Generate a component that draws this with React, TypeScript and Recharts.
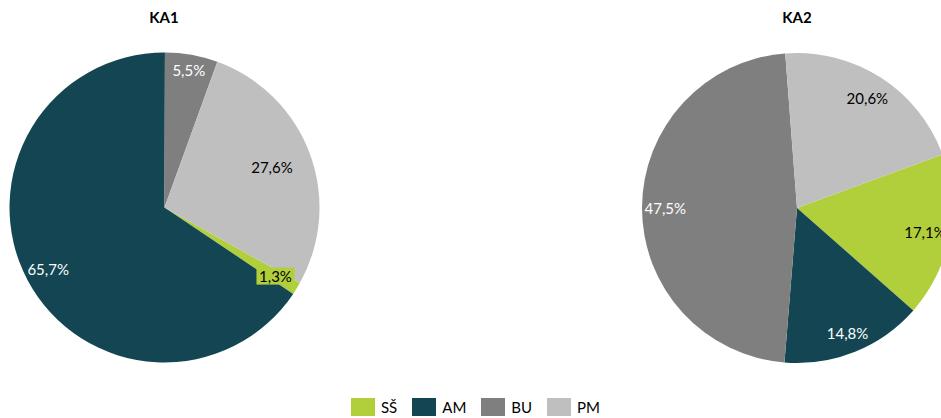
import React from "react";
import { PieChart, Pie, Cell, Legend } from "recharts";

const categories = ["SŠ", "AM", "BU", "PM"];
const ka1Values = [1.3, 65.7, 5.5, 27.6];
const ka2Values = [17.1, 14.8, 47.5, 20.6];

const COLORS = ["#b0cf3b", "#134652", "#7f7f7f", "#bfbfbf"];
const TEXT_COLORS = ["#000000", "#ffffff", "#ffffff", "#000000"];
const FONT = "Lato, 'Open Sans', sans-serif";
const RADIAN = Math.PI / 180;

const ka1 = categories.map((name, i) => ({ name, value: ka1Values[i] }));
const ka2 = categories.map((name, i) => ({ name, value: ka2Values[i] }));

const fmt = (v: number) => v.toFixed(1).replace(".", ",") + "%";

function makeLabel(radii: number[], boxed: number[]) {
  return (props: any) => {
    const { cx, cy, midAngle, outerRadius, index, value } = props;
    const r = outerRadius * radii[index];
    const x = cx + r * Math.cos(-midAngle * RADIAN);
    const y = cy + r * Math.sin(-midAngle * RADIAN);
    return (
      <g key={`lbl-${index}`}>
        {boxed.includes(index) && (
          <rect x={x - 19} y={y - 8} width={38} height={17} fill={COLORS[index]} />
        )}
        <text
          x={x}
          y={y}
          fill={TEXT_COLORS[index]}
          textAnchor="middle"
          dominantBaseline="central"
          fontSize={15}
          fontFamily={FONT}
        >
          {fmt(value)}
        </text>
      </g>
    );
  };
}

function LegendContent() {
  return (
    <div style={{ display: "flex", justifyContent: "center", fontFamily: FONT, fontSize: 15, paddingLeft: 10 }}>
      {categories.map((c, i) => (
        <div key={c} style={{ display: "flex", alignItems: "center", marginRight: i < 3 ? 15 : 0 }}>
          <span style={{ width: 24, height: 18, background: COLORS[i], display: "inline-block", marginRight: 6 }} />
          <span style={{ color: "#000" }}>{c}</span>
        </div>
      ))}
    </div>
  );
}

export default function App() {
  return (
    <div style={{ position: "absolute", left: 0, top: 0, width: 941, height: 418, background: "#fff", overflow: "hidden" }}>
      <div style={{ position: "absolute", left: 114, top: 8, width: 100, textAlign: "center", fontFamily: FONT, fontWeight: 700, fontSize: 15 }}>KA1</div>
      <div style={{ position: "absolute", left: 747, top: 8, width: 100, textAlign: "center", fontFamily: FONT, fontWeight: 700, fontSize: 15 }}>KA2</div>
      <PieChart width={941} height={418} margin={{ top: 0, right: 0, bottom: 0, left: 0 }}>
        <Pie
          data={ka1}
          dataKey="value"
          nameKey="name"
          cx={164.5}
          cy={207.5}
          outerRadius={155}
          startAngle={-29.2}
          endAngle={-389.2}
          stroke="none"
          labelLine={false}
          label={makeLabel([0.84, 0.85, 0.9, 0.74], [0])}
          isAnimationActive={false}
        >
          {ka1.map((d, i) => (
            <Cell key={d.name} fill={COLORS[i]} />
          ))}
        </Pie>
        <Pie
          data={ka2}
          dataKey="value"
          nameKey="name"
          cx={797}
          cy={208}
          outerRadius={155}
          startAngle={20.2}
          endAngle={-339.8}
          stroke="none"
          labelLine={false}
          label={makeLabel([0.84, 0.87, 0.85, 0.84], [])}
          isAnimationActive={false}
        >
          {ka2.map((d, i) => (
            <Cell key={d.name} fill={COLORS[i]} />
          ))}
        </Pie>
        <Legend
          content={<LegendContent />}
          wrapperStyle={{ position: "absolute", left: 0, top: 398, width: 941 }}
        />
      </PieChart>
    </div>
  );
}
